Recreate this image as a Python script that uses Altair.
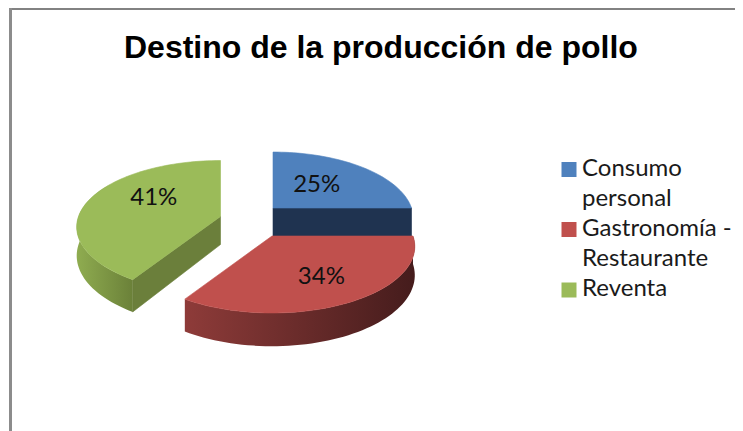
import math
import altair as alt

TITLE = "Destino de la producción de pollo"
categories = ["Consumo personal", "Gastronomía - Restaurante", "Reventa"]
legend_lines = ["Consumo\npersonal", "Gastronomía -\nRestaurante", "Reventa"]
shares = [25, 34, 41]
colors = ["#4f81bd", "#c0504d", "#9bbb59"]

# drawing set-up of the tilted pie, in canvas pixels
W, H = 727, 423
OX, OY = 8, 8                     # page margin
centres = [(273, 208), (272, 236), (220.5, 216.5)]
radii = [138.5, 141, 142]
FOCAL, TILT, DEPTH = 6.33, 64.8, 28
label_r = [0.47, 0.66, 0.5]
label_dy = [-3, 0, -10]
legend_y = [169.5, 229.5, 290]
line_h = 30

# cumulative angles, clockwise from 12 o'clock
starts, ends, acc = [], [], 0
for s in shares:
    starts.append(acc / sum(shares) * 360)
    acc += s
    ends.append(acc / sum(shares) * 360)


def project(i, deg, r=1.0, down=0.0):
    a = math.radians(deg)
    X, Z = r * math.sin(a), r * math.cos(a)
    k = FOCAL / (FOCAL + Z)
    cx, cy = centres[i]
    return [cx + radii[i] * X * k - OX, cy - TILT * Z * k + down * k - OY]


def arc(i, a, b, down=0.0):
    n = max(2, int(abs(b - a) / 2))
    return [project(i, a + (b - a) * j / n, 1.0, down) for j in range(n + 1)]


def shape(ring, **mark):
    ring = ring + [ring[0]]
    feat = {"type": "Feature", "properties": {},
            "geometry": {"type": "Polygon", "coordinates": [ring]}}
    return alt.Chart(alt.Data(values=[feat])).mark_geoshape(strokeWidth=0.6, **mark)


def top(i):
    return shape([project(i, 0, 0.0)] + arc(i, starts[i], ends[i]),
                 fill=colors[i], stroke=colors[i])


def rim(i, a, b, fill):
    return shape(arc(i, a, b) + arc(i, b, a, DEPTH), fill=fill, stroke="transparent")


def radial(i, deg, fill):
    c, e = project(i, 0, 0.0), project(i, deg)
    c2, e2 = project(i, 0, 0.0, DEPTH), project(i, deg, 1.0, DEPTH)
    return shape([c, e, e2, c2], fill=fill, stroke=fill)


def hgrad(a, b):
    return alt.Gradient(gradient="linear", x1=0, x2=1, y1=0, y2=0,
                        stops=[alt.GradientStop(color=a, offset=0),
                               alt.GradientStop(color=b, offset=1)])


layers = [
    radial(0, ends[0], "#1f3350"),
    top(0),
    rim(2, starts[2], 300, hgrad("#8fac50", "#6b8139")),
    radial(2, starts[2], "#6b7f3b"),
    top(2),
    rim(1, starts[1], ends[1], hgrad("#8e3b39", "#451c1c")),
    top(1),
]

# percentage labels on the slices
lab = []
for i, s in enumerate(shares):
    p = project(i, (starts[i] + ends[i]) / 2, label_r[i])
    lab.append({"lon": p[0], "lat": p[1] + label_dy[i], "t": f"{s}%"})
layers.append(alt.Chart(alt.Data(values=lab)).mark_text(
    font="Lato", fontSize=24, color="#111111", baseline="middle", align="center"
).encode(longitude="lon:Q", latitude="lat:Q", text="t:N"))

# legend
sw = [{"lon": 569 - OX, "lat": y - OY, "c": c} for y, c in zip(legend_y, categories)]
layers.append(alt.Chart(alt.Data(values=sw)).mark_square(size=225, opacity=1).encode(
    longitude="lon:Q", latitude="lat:Q",
    color=alt.Color("c:N", scale=alt.Scale(domain=categories, range=colors), legend=None)))
tx = [{"lon": 582 - OX, "lat": y - OY - 1, "t": t} for y, t in zip(legend_y, legend_lines)]
layers.append(alt.Chart(alt.Data(values=tx)).mark_text(
    font="Lato", fontSize=24, color="#1a1a1a", align="left", baseline="middle",
    lineBreak="\n", lineHeight=line_h
).encode(longitude="lon:Q", latitude="lat:Q", text="t:N"))

chart = alt.layer(*layers).project(type="identity", scale=1, translate=[0, 0]).properties(
    width=W, height=H, padding=0,
    autosize=alt.AutoSizeParams(type="none"),
    background="white",
    title=alt.TitleParams(TITLE, anchor="start", frame="group", dx=116, offset=-90,
                          font="Liberation Sans", fontWeight="bold", fontSize=32,
                          color="#000000", baseline="bottom"),
).configure_view(stroke=None)

frame = alt.layer(
    alt.Chart().mark_rule(color="#828282", strokeWidth=2).encode(
        x=alt.value(1), x2=alt.value(W), y=alt.value(1)),
    alt.Chart().mark_rule(color="#8c8c8c", strokeWidth=3).encode(
        x=alt.value(2.5), y=alt.value(0), y2=alt.value(H)),
)
chart.layer = list(frame.layer) + list(chart.layer)

chart.save("out.html", embed_options={"renderer": "svg", "actions": False})
